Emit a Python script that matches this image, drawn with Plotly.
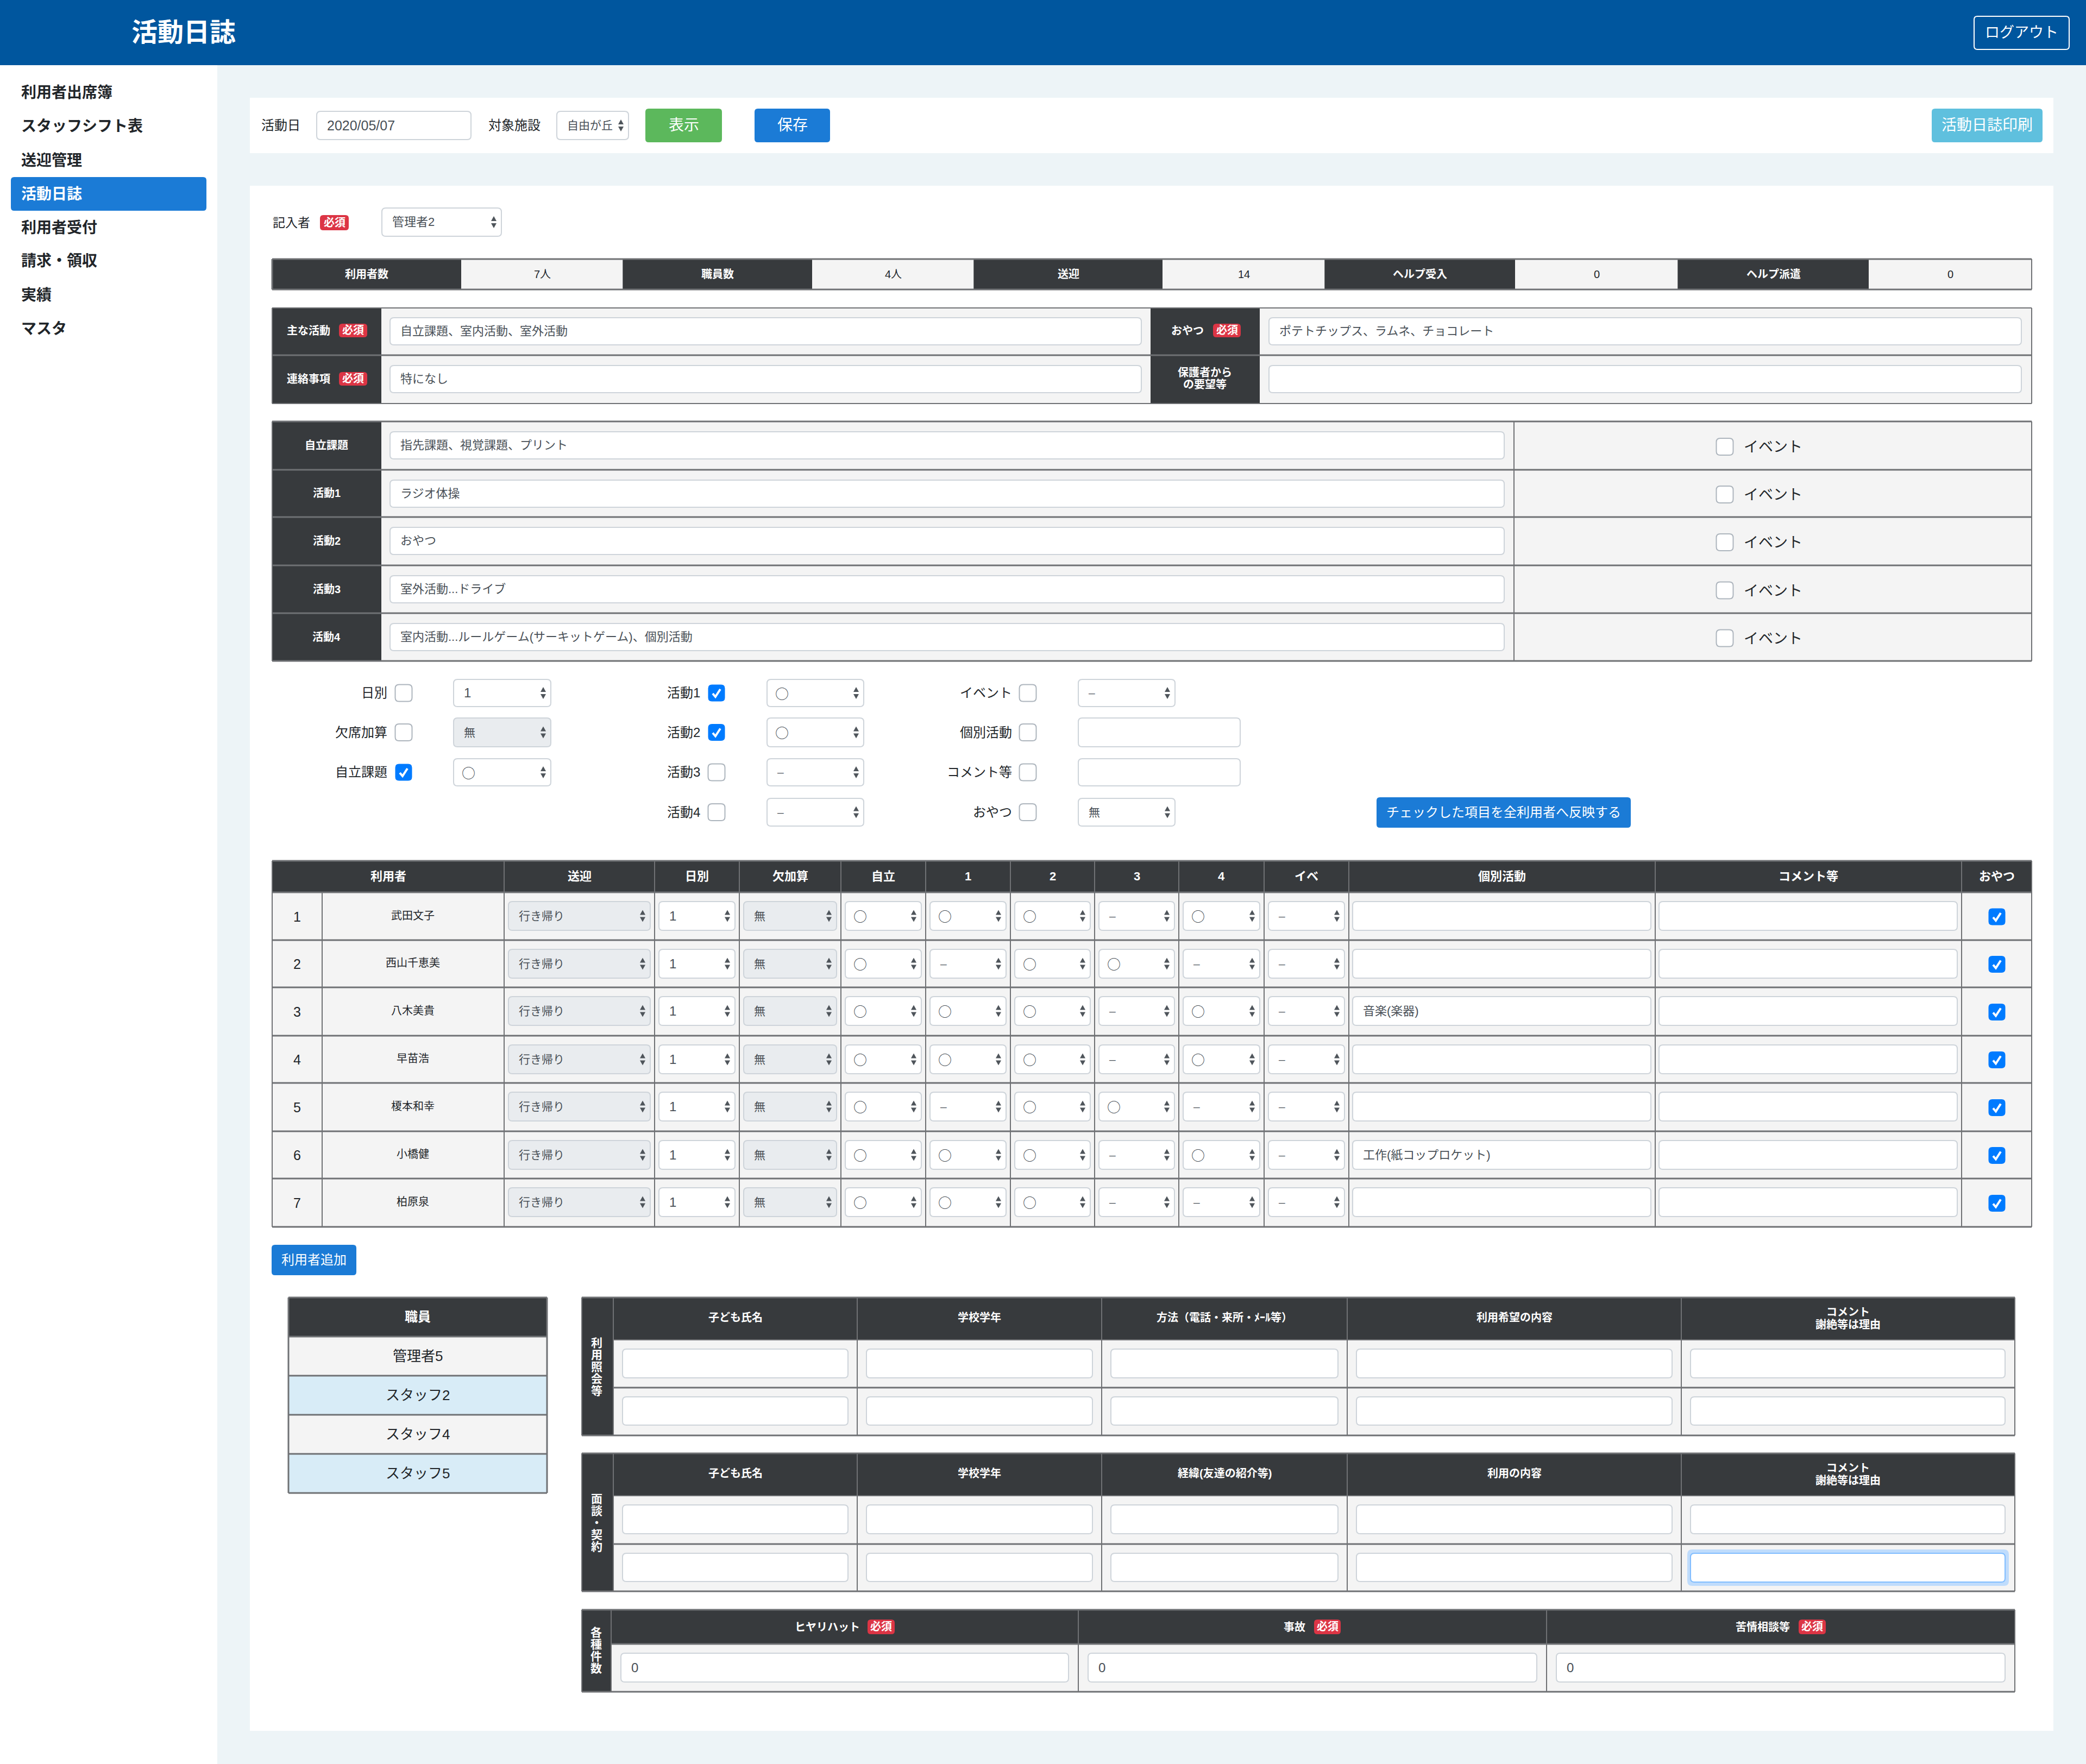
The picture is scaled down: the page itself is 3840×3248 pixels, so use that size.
import plotly.graph_objects as go

# =========================================================
# PAGE TEXT AND FORM VALUES
# =========================================================
PAGE_TITLE = "活動日誌"
LOGOUT_LABEL = "ログアウト"
NAV_ITEMS = ["利用者出席簿", "スタッフシフト表", "送迎管理", "活動日誌", "利用者受付", "請求・領収", "実績", "マスタ"]
NAV_ACTIVE = "活動日誌"

ACTIVITY_DATE = "2020/05/07"
FACILITY = "自由が丘"
WRITER = "管理者2"
REQUIRED = "必須"

STAT_LABELS = ["利用者数", "職員数", "送迎", "ヘルプ受入", "ヘルプ派遣"]
STAT_VALUES = ["7人", "4人", "14", "0", "0"]

MAIN_ACTIVITY = "自立課題、室内活動、室外活動"
NOTICE = "特になし"
SNACK = "ポテトチップス、ラムネ、チョコレート"

ACTIVITY_LABELS = ["自立課題", "活動1", "活動2", "活動3", "活動4"]
ACTIVITY_VALUES = [
    "指先課題、視覚課題、プリント",
    "ラジオ体操",
    "おやつ",
    "室外活動...ドライブ",
    "室内活動...ルールゲーム(サーキットゲーム)、個別活動",
]
EVENT_LABEL = "イベント"

FILTER_LABELS_1 = ["日別", "欠席加算", "自立課題"]
FILTER_CHECKS_1 = [False, False, True]
FILTER_VALUES_1 = ["1", "無", "○"]
FILTER_LABELS_2 = ["活動1", "活動2", "活動3", "活動4"]
FILTER_CHECKS_2 = [True, True, False, False]
FILTER_VALUES_2 = ["○", "○", "–", "–"]
FILTER_LABELS_3 = ["イベント", "個別活動", "コメント等", "おやつ"]
FILTER_VALUES_3 = ["–", None, None, "無"]
APPLY_LABEL = "チェックした項目を全利用者へ反映する"

USER_HEADERS = ["利用者", "送迎", "日別", "欠加算", "自立", "1", "2", "3", "4", "イベ", "個別活動", "コメント等", "おやつ"]
USER_NAMES = ["武田文子", "西山千恵美", "八木美貴", "早苗浩", "榎本和幸", "小橋健", "柏原泉"]
USER_TRANSPORT = ["行き帰り"] * 7
USER_DAILY = ["1"] * 7
USER_ABSENT = ["無"] * 7
USER_SELF = ["○", "○", "○", "○", "○", "○", "○"]
USER_ACT1 = ["○", "–", "○", "○", "–", "○", "○"]
USER_ACT2 = ["○", "○", "○", "○", "○", "○", "○"]
USER_ACT3 = ["–", "○", "–", "–", "○", "–", "–"]
USER_ACT4 = ["○", "–", "○", "○", "–", "○", "–"]
USER_EVENT = ["–"] * 7
USER_INDIVIDUAL = ["", "", "音楽(楽器)", "", "", "工作(紙コップロケット)", ""]
ADD_USER_LABEL = "利用者追加"

STAFF_HEADER = "職員"
STAFF_NAMES = ["管理者5", "スタッフ2", "スタッフ4", "スタッフ5"]

INQUIRY_TITLE = "利用照会等"
INQUIRY_HEADERS = ["子ども氏名", "学校学年", "方法（電話・来所・ﾒｰﾙ等）", "利用希望の内容", "コメント\n謝絶等は理由"]
CONTRACT_TITLE = "面談・契約"
CONTRACT_HEADERS = ["子ども氏名", "学校学年", "経緯(友達の紹介等)", "利用の内容", "コメント\n謝絶等は理由"]
COUNT_TITLE = "各種件数"
COUNT_HEADERS = ["ヒヤリハット", "事故", "苦情相談等"]
COUNT_VALUES = ["0", "0", "0"]

# =========================================================
# COLORS AND FONT
# =========================================================
FONT = "Liberation Sans, Noto Sans CJK JP"
FONT_CJK = "Noto Sans CJK JP"
BLUE_BAR = "#00569e"
PAGE_BG = "#edf4f7"
BTN_BLUE = "#1b7bd6"
BTN_GREEN = "#5cb85c"
BTN_CYAN = "#5fc0de"
RED = "#dc3545"
DARK = "#373a3d"
CELL = "#f4f4f4"
STAFF_BLUE = "#d8ecf7"
RULE = "#6f7174"
INPUT_LINE = "#ced4da"
DISABLED = "#e9ecef"
INK = "#212529"
FIELD_INK = "#495057"
CHECK_BLUE = "#007bff"

# =========================================================
# DRAWING HELPERS (page pixels on the x / y axes)
# =========================================================
shapes = []
notes = []


def rect(x0, y0, x1, y1, fill):
    shapes.append(dict(type="rect", x0=x0, y0=y0, x1=x1, y1=y1, fillcolor=fill, line=dict(width=0)))


def line(x0, y0, x1, y1, color=RULE, width=3):
    shapes.append(dict(type="line", x0=x0, y0=y0, x1=x1, y1=y1, line=dict(color=color, width=width)))


def rrect(x0, y0, x1, y1, fill, stroke=None, width=2, r=7):
    p = (f"M {x0+r},{y0} L {x1-r},{y0} Q {x1},{y0} {x1},{y0+r} L {x1},{y1-r} Q {x1},{y1} {x1-r},{y1} "
         f"L {x0+r},{y1} Q {x0},{y1} {x0},{y1-r} L {x0},{y0+r} Q {x0},{y0} {x0+r},{y0} Z")
    shapes.append(dict(type="path", path=p, fillcolor=fill,
                       line=dict(color=stroke or fill, width=width if stroke else 0)))


def text(x, y, s, size=22, color=INK, anchor="center", bold=False, family=FONT):
    # CJK glyphs sit a little low in the line box
    notes.append(dict(x=x, y=y - 0.5, text=s, showarrow=False, xanchor=anchor, yanchor="middle", borderpad=0,
                      font=dict(family=family, size=size, color=color, weight=700 if bold else 400)))


def arrows(x, yc, color="#4f555b"):
    for a, b in ((-11, -2), (11, 2)):
        p = f"M {x-5},{yc+b} L {x+5},{yc+b} L {x},{yc+a} Z"
        shapes.append(dict(type="path", path=p, fillcolor=color, line=dict(width=0)))


def select(x0, y0, x1, y1, value, size=21, disabled=False):
    rrect(x0, y0, x1, y1, DISABLED if disabled else "white", INPUT_LINE)
    yc = (y0 + y1) / 2
    if value == "○":
        text(x0 + 14, yc, value, size=25, color=FIELD_INK, anchor="left", family=FONT_CJK)
    elif value.isascii():
        text(x0 + 18, yc, value, size=size + 3, color=FIELD_INK, anchor="left")
    else:
        text(x0 + 18, yc, value, size=size, color=FIELD_INK, anchor="left")
    arrows(x1 - 14, yc)


def field(x0, y0, x1, y1, value="", size=22):
    rrect(x0, y0, x1, y1, "white", INPUT_LINE)
    if value:
        text(x0 + 18, (y0 + y1) / 2, value, size=size + 2 if value.isascii() else size, color=FIELD_INK, anchor="left")


def checkbox(xc, yc, checked, s=31):
    h = s / 2
    if checked:
        rrect(xc - h, yc - h, xc + h, yc + h, CHECK_BLUE, r=7)
        p = f"M {xc-7},{yc+1} L {xc-2},{yc+7} L {xc+7},{yc-7}"
        shapes.append(dict(type="path", path=p, line=dict(color="white", width=4)))
    else:
        rrect(xc - h, yc - h, xc + h, yc + h, "white", "#adb5bd", r=7)


def badge(x0, y0, x1, y1, size=20):
    rrect(x0, y0, x1, y1, RED, r=6)
    text((x0 + x1) / 2, (y0 + y1) / 2, REQUIRED, size=size, color="white", bold=True)


def button(x0, y0, x1, y1, s, fill, size=26):
    rrect(x0, y0, x1, y1, fill, r=6)
    text((x0 + x1) / 2, (y0 + y1) / 2, s, size=size, color="white")


def vtext(x, yc, s, step=22, size=21):
    top = yc - step * (len(s) - 1) / 2
    for i, ch in enumerate(s):
        text(x, top + i * step, ch, size=size, color="white", bold=True)


# =========================================================
# PAGE CHROME
# =========================================================
rect(0, 0, 3840, 3248, PAGE_BG)
rect(0, 0, 3840, 120, BLUE_BAR)
rect(0, 120, 400, 3248, "white")
text(241, 60, PAGE_TITLE, size=48, color="white", anchor="left", bold=True)
rrect(3634, 30, 3809, 91, BLUE_BAR, "white", r=6)
text(3721, 60, LOGOUT_LABEL, size=27, color="white")

NAV_Y = [171, 233, 296, 358, 420, 481, 544, 606]
rrect(20, 326, 380, 388, BTN_BLUE, r=6)
for y, item in zip(NAV_Y, NAV_ITEMS):
    text(38, y, item, size=28, color="white" if item == NAV_ACTIVE else INK, anchor="left", bold=True)

rect(460, 180, 3780, 282, "white")
rect(460, 342, 3780, 3187, "white")

# =========================================================
# TOOLBAR
# =========================================================
text(480, 231, "活動日", size=24, anchor="left")
field(583, 205, 867, 257, ACTIVITY_DATE, size=23)
text(898, 231, "対象施設", size=24, anchor="left")
select(1025, 205, 1157, 257, FACILITY, size=21)
button(1188, 200, 1329, 262, "表示", BTN_GREEN, size=28)
button(1389, 200, 1528, 262, "保存", BTN_BLUE, size=28)
button(3556, 200, 3760, 262, "活動日誌印刷", BTN_CYAN, size=28)

text(501, 410, "記入者", size=23, anchor="left")
badge(589, 396, 642, 424)
select(703, 383, 923, 435, WRITER, size=22)

# =========================================================
# SUMMARY STRIP
# =========================================================
STAT_X = [501, 849, 1147, 1495, 1793, 2140, 2439, 2789, 3089, 3440, 3740]
rect(501, 477, 3740, 533, CELL)
for i, (lab, val) in enumerate(zip(STAT_LABELS, STAT_VALUES)):
    x0, x1, x2 = STAT_X[2 * i], STAT_X[2 * i + 1], STAT_X[2 * i + 2]
    rect(x0, 477, x1, 533, DARK)
    line(x2, 477, x2, 533, width=2)
    text((x0 + x1) / 2, 505, lab, size=20, color="white", bold=True)
    text((x1 + x2) / 2, 505, val, size=20)
line(501, 477, 3740, 477)
line(501, 533, 3740, 533)
line(501, 477, 501, 533)

# =========================================================
# MAIN ACTIVITY / NOTICE TABLE
# =========================================================
rect(501, 567, 3740, 743, CELL)
rect(501, 567, 702, 743, DARK)
rect(2118, 567, 2319, 743, DARK)
line(501, 654, 3740, 654)
line(501, 567, 3740, 567, width=2)
line(501, 743, 3740, 743, width=2)
line(501, 567, 501, 743, width=2)
line(3740, 567, 3740, 743, width=2)
text(527, 609, "主な活動", size=20, color="white", anchor="left", bold=True)
badge(624, 596, 676, 621)
text(527, 698, "連絡事項", size=20, color="white", anchor="left", bold=True)
badge(624, 685, 676, 710)
field(718, 585, 2101, 635, MAIN_ACTIVITY)
field(718, 673, 2101, 723, NOTICE)
text(2155, 609, "おやつ", size=20, color="white", anchor="left", bold=True)
badge(2233, 596, 2284, 621)
text(2218, 686, "保護者から", size=20, color="white", bold=True)
text(2218, 708, "の要望等", size=20, color="white", bold=True)
field(2336, 585, 3721, 635, SNACK)
field(2336, 673, 3721, 723)

# =========================================================
# ACTIVITY TABLE
# =========================================================
ACT_Y = [776, 865, 952, 1041, 1129, 1217]
rect(501, 776, 3740, 1217, CELL)
rect(501, 776, 702, 1217, DARK)
for i, (lab, val) in enumerate(zip(ACTIVITY_LABELS, ACTIVITY_VALUES)):
    y0, y1 = ACT_Y[i], ACT_Y[i + 1]
    yc = (y0 + y1) / 2
    text(601, yc, lab, size=20, color="white", bold=True)
    field(718, y0 + 19, 2769, y0 + 69, val)
    checkbox(3175, yc + 2, False)
    text(3209, yc + 3, EVENT_LABEL, size=27, anchor="left")
for y in ACT_Y:
    line(501, y, 3740, y)
line(501, 776, 501, 1217, width=2)
line(2787, 776, 2787, 1217, width=2)
line(3740, 776, 3740, 1217, width=2)

# =========================================================
# BULK-EDIT CONTROLS
# =========================================================
FILTER_BOX = [(1251, 1301), (1322, 1375), (1397, 1447), (1470, 1521)]
for i, lab in enumerate(FILTER_LABELS_1):
    y0, y1 = FILTER_BOX[i]
    yc = (y0 + y1) / 2
    text(714, yc, lab, size=24, anchor="right")
    checkbox(743, yc, FILTER_CHECKS_1[i])
    select(835, y0, 1014, y1, FILTER_VALUES_1[i], disabled=FILTER_VALUES_1[i] == "無")
for i, lab in enumerate(FILTER_LABELS_2):
    y0, y1 = FILTER_BOX[i]
    yc = (y0 + y1) / 2
    text(1290, yc, lab, size=24, anchor="right")
    checkbox(1319, yc, FILTER_CHECKS_2[i])
    select(1412, y0, 1590, y1, FILTER_VALUES_2[i])
for i, lab in enumerate(FILTER_LABELS_3):
    y0, y1 = FILTER_BOX[i]
    yc = (y0 + y1) / 2
    text(1864, yc, lab, size=24, anchor="right")
    checkbox(1892, yc, False)
    if FILTER_VALUES_3[i] is None:
        field(1985, y0, 2283, y1)
    else:
        select(1985, y0, 2163, y1, FILTER_VALUES_3[i])
button(2534, 1468, 3002, 1524, APPLY_LABEL, BTN_BLUE, size=24)

# =========================================================
# USER TABLE
# =========================================================
COL_X = [501, 928, 1205, 1361, 1548, 1704, 1860, 2015, 2170, 2327, 2483, 3047, 3611, 3740]
ROW_Y = [1643, 1731, 1818, 1907, 1994, 2083, 2170, 2259]
rect(501, 1585, 3740, 1643, DARK)
rect(501, 1643, 3740, 2259, CELL)
for i, head in enumerate(USER_HEADERS):
    text((COL_X[i] + COL_X[i + 1]) / 2, 1614, head, size=22, color="white", bold=True)
SELECT_COLS = [USER_TRANSPORT, USER_DAILY, USER_ABSENT, USER_SELF, USER_ACT1, USER_ACT2, USER_ACT3, USER_ACT4, USER_EVENT]
for r, name in enumerate(USER_NAMES):
    y0, y1 = ROW_Y[r], ROW_Y[r + 1]
    yc = (y0 + y1) / 2
    text(547, yc + 1, str(r + 1), size=25)
    text(760, yc - 1, name, size=20)
    for c, col in enumerate(SELECT_COLS):
        select(COL_X[c + 1] + 8, y0 + 17, COL_X[c + 2] - 8, y0 + 70, col[r], size=21, disabled=c in (0, 2))
    field(COL_X[10] + 7, y0 + 17, COL_X[11] - 8, y0 + 70, USER_INDIVIDUAL[r], size=22)
    field(COL_X[11] + 7, y0 + 17, COL_X[12] - 8, y0 + 70)
    checkbox(3676, yc + 1, True, s=31)
for y in ROW_Y + [1585]:
    line(501, y, 3740, y)
for x in COL_X[1:-1] + [593]:
    top = 1643 if x == 593 else 1585
    line(x, top, x, 2259, width=2)
line(501, 1585, 501, 2259, width=2)
line(3740, 1585, 3740, 2259, width=2)
button(500, 2292, 656, 2348, ADD_USER_LABEL, BTN_BLUE, size=24)

# =========================================================
# STAFF LIST
# =========================================================
STAFF_Y = [2461, 2533, 2605, 2677, 2749]
rect(531, 2389, 1007, 2461, DARK)
text(769, 2425, STAFF_HEADER, size=24, color="white", bold=True)
for i, name in enumerate(STAFF_NAMES):
    rect(531, STAFF_Y[i], 1007, STAFF_Y[i + 1], STAFF_BLUE if i % 2 else CELL)
    text(769, (STAFF_Y[i] + STAFF_Y[i + 1]) / 2, name, size=26)
for y in [2389] + STAFF_Y:
    line(531, y, 1007, y)
line(531, 2389, 531, 2749)
line(1007, 2389, 1007, 2749)

# =========================================================
# INQUIRY / CONTRACT TABLES
# =========================================================
TABLE_X = [1129, 1578, 2028, 2480, 3095, 3709]


def two_row_table(y0, y_head, y_mid, y1, title, headers):
    rect(1071, y0, 3709, y_head, DARK)
    rect(1071, y0, 1129, y1, DARK)
    rect(1129, y_head, 3709, y1, CELL)
    vtext(1098, (y0 + y1) / 2 + 1, title)
    for i, head in enumerate(headers):
        xc = (TABLE_X[i] + TABLE_X[i + 1]) / 2
        parts = head.split("\n")
        if len(parts) == 2:
            text(xc, y0 + 27, parts[0], size=20, color="white", bold=True)
            text(xc, y0 + 50, parts[1], size=20, color="white", bold=True)
        else:
            text(xc, y0 + 37, head, size=20, color="white", bold=True)
        x_a = TABLE_X[i] + 17
        x_b = TABLE_X[i + 1] - 17
        if i == 4:
            x_a, x_b = TABLE_X[i] + 17, TABLE_X[i + 1] - 18
        field(x_a, y_head + 17, x_b, y_head + 70)
        field(x_a, y_mid + 17, x_b, y_mid + 69)
        line(TABLE_X[i + 1], y0, TABLE_X[i + 1], y1, width=2)
    line(1129, y0, 1129, y1, width=2)
    line(1071, y0, 3709, y0)
    line(1129, y_head, 3709, y_head, width=2)
    line(1129, y_mid, 3709, y_mid)
    line(1071, y1, 3709, y1)
    line(1071, y0, 1071, y1, width=2)


two_row_table(2389, 2467, 2555, 2643, INQUIRY_TITLE, INQUIRY_HEADERS)
two_row_table(2676, 2754, 2843, 2930, CONTRACT_TITLE, CONTRACT_HEADERS)
# focused comment box in the contract table
rrect(3106, 2853, 3698, 2920, "#bfdcfc", r=9)
rrect(3112, 2860, 3691, 2913, "white", "#80bdff")

# =========================================================
# COUNT TABLE
# =========================================================
COUNT_COLS = [1125, 1985, 2847, 3709]
COUNT_BADGE = [(1597, 1647), (2419, 2468), (3311, 3361)]
COUNT_LAB_X = [1462, 2362, 3194]
rect(1071, 2964, 3709, 3027, DARK)
rect(1071, 2964, 1125, 3115, DARK)
rect(1125, 3027, 3709, 3115, CELL)
vtext(1097, 3039, COUNT_TITLE)
for i, head in enumerate(COUNT_HEADERS):
    text(COUNT_LAB_X[i], 2996, head, size=20, color="white", anchor="left", bold=True)
    badge(COUNT_BADGE[i][0], 2982, COUNT_BADGE[i][1], 3009)
    field(COUNT_COLS[i] + 18, 3044, COUNT_COLS[i + 1] - 18, 3097, COUNT_VALUES[i])
    line(COUNT_COLS[i + 1], 2964, COUNT_COLS[i + 1], 3115, width=2)
line(1125, 2964, 1125, 3115, width=2)
line(1071, 2964, 3709, 2964)
line(1125, 3027, 3709, 3027)
line(1071, 3115, 3709, 3115)
line(1071, 2964, 1071, 3115, width=2)

# =========================================================
# FIGURE
# =========================================================
fig = go.Figure()
fig.update_layout(
    width=3840,
    height=3248,
    margin=dict(l=0, r=0, t=0, b=0),
    paper_bgcolor=PAGE_BG,
    plot_bgcolor=PAGE_BG,
    showlegend=False,
    xaxis=dict(range=[0, 3840], visible=False, fixedrange=True),
    yaxis=dict(range=[3248, 0], visible=False, fixedrange=True),
    shapes=shapes,
    annotations=notes,
)
fig.write_html("out.html", config={"displayModeBar": False},
               post_script="document.body.style.margin='0';document.body.style.overflow='hidden';")
